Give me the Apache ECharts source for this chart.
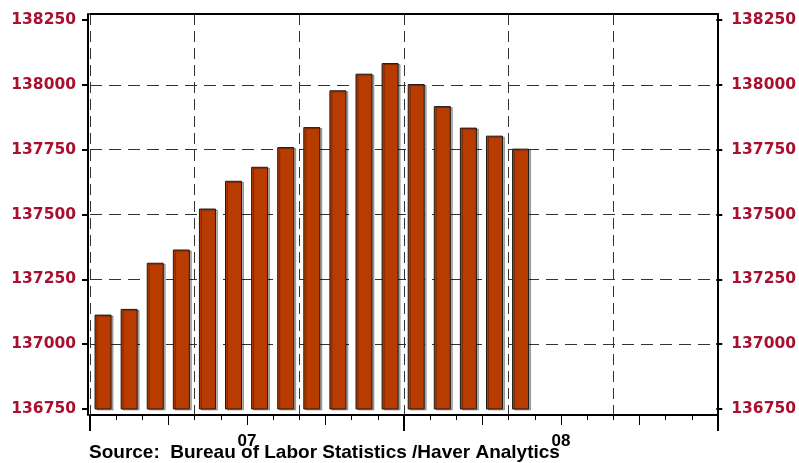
<!DOCTYPE html>
<html>
<head>
<meta charset="utf-8">
<script src="https://cdn.jsdelivr.net/npm/echarts@6/dist/echarts.min.js"></script>
<style>
  html, body { margin: 0; padding: 0; background: #fff; }
  #chart { width: 799px; height: 463px; }
</style>
</head>
<body>
<div id="chart"></div>
<script>
// monthly slots, Jan 2007 .. Dec 2008
var months = ['Jan 07','Feb 07','Mar 07','Apr 07','May 07','Jun 07','Jul 07','Aug 07','Sep 07','Oct 07','Nov 07','Dec 07',
              'Jan 08','Feb 08','Mar 08','Apr 08','May 08','Jun 08','Jul 08','Aug 08','Sep 08','Oct 08','Nov 08','Dec 08'];
// civilian employment (thousands)
var employment = [137114, 137136, 137314, 137365, 137523, 137630, 137684, 137760, 137837,
                  137979, 138043, 138084, 138003, 137918, 137835, 137804, 137754];
var yearLabels = { 6: '07', 18: '08' };
var yMin = 136750, yMax = 138250, yStep = 250;
var sourceText = 'Source:  Bureau of Labor Statistics /Haver Analytics';

var red = '#a8102f';
var gridDash = { color: '#333', width: 1, type: [12, 7] };
var numFont = {
  color: red, fontWeight: 'bold', fontSize: 15.5, fontFamily: 'DejaVu Sans',
  formatter: function (v) { return String(v); }
};
var frameLine = { show: true, onZero: false, lineStyle: { color: '#000', width: 2 } };

function tickAxis(interval, len, width) {
  return {
    type: 'value', gridIndex: 0, position: 'bottom', min: 0, max: 24, interval: interval,
    axisLine: { show: false, onZero: false },
    axisTick: { show: true, length: len, lineStyle: { color: '#000', width: width || 1 } },
    axisLabel: { show: false },
    splitLine: { show: false }
  };
}

var chart = echarts.init(document.getElementById('chart'));
chart.setOption({
  animation: false,
  backgroundColor: '#fff',
  grid: [
    { left: 90, right: 81, top: 14, bottom: 48 },   // frame
    { left: 90, right: 81, top: 20, bottom: 54 }    // data
  ],
  xAxis: [
    { // bottom frame line + vertical dashed lines
      type: 'value', gridIndex: 0, position: 'bottom', min: 0, max: 24, interval: 4,
      axisLine: frameLine,
      axisTick: { show: false }, axisLabel: { show: false },
      splitLine: { show: true, lineStyle: { color: '#333', width: 1, type: [11, 6] } }
    },
    { // top frame line
      type: 'value', gridIndex: 0, position: 'top', min: 0, max: 24,
      axisLine: frameLine,
      axisTick: { show: false }, axisLabel: { show: false }, splitLine: { show: false }
    },
    tickAxis(1, 5),
    tickAxis(3, 10),
    tickAxis(12, 16, 2),
    { // year labels
      type: 'value', gridIndex: 0, position: 'bottom', min: 0, max: 24, interval: 6,
      axisLine: { show: false, onZero: false }, axisTick: { show: false }, splitLine: { show: false },
      axisLabel: {
        show: true, margin: 18, color: '#000', fontWeight: 'bold', fontSize: 17,
        fontFamily: 'Liberation Sans',
        formatter: function (v) { return yearLabels[v] || ''; }
      }
    },
    { // bar categories
      type: 'category', gridIndex: 1, data: months, show: false, boundaryGap: true
    }
  ],
  yAxis: [
    { // left frame line
      type: 'value', gridIndex: 0, position: 'left', offset: 2, min: 0, max: 1,
      axisLine: frameLine,
      axisTick: { show: false }, axisLabel: { show: false }, splitLine: { show: false }
    },
    { // right frame line
      type: 'value', gridIndex: 0, position: 'right', min: 0, max: 1,
      axisLine: frameLine,
      axisTick: { show: false }, axisLabel: { show: false }, splitLine: { show: false }
    },
    {
      type: 'value', gridIndex: 1, position: 'left', offset: 2,
      min: yMin, max: yMax, interval: yStep,
      axisLine: { show: false, onZero: false },
      axisTick: { show: true, inside: false, length: 6, lineStyle: { color: '#000', width: 2 } },
      axisLabel: Object.assign({ margin: 12 }, numFont),
      splitLine: { show: true, showMinLine: false, showMaxLine: false, lineStyle: gridDash }
    },
    {
      type: 'value', gridIndex: 1, position: 'right',
      min: yMin, max: yMax, interval: yStep,
      axisLine: { show: false, onZero: false },
      axisTick: { show: true, inside: false, length: 6, lineStyle: { color: '#000', width: 2 } },
      axisLabel: Object.assign({ margin: 15 }, numFont),
      splitLine: { show: false }
    }
  ],
  series: [{
    type: 'bar',
    xAxisIndex: 6,
    yAxisIndex: 2,
    data: employment,
    barWidth: 17,
    itemStyle: {
      color: '#b83b00',
      borderColor: '#1a1a1a',
      borderWidth: 1,
      shadowColor: 'rgba(0,0,0,0.3)',
      shadowOffsetX: 2,
      shadowOffsetY: 1,
      shadowBlur: 0
    }
  }],
  graphic: [{
    type: 'text', left: 89, top: 443,
    style: {
      text: sourceText, fill: '#000',
      font: 'bold 19px "Liberation Sans", Arial, sans-serif'
    }
  }]
});
</script>
</body>
</html>
